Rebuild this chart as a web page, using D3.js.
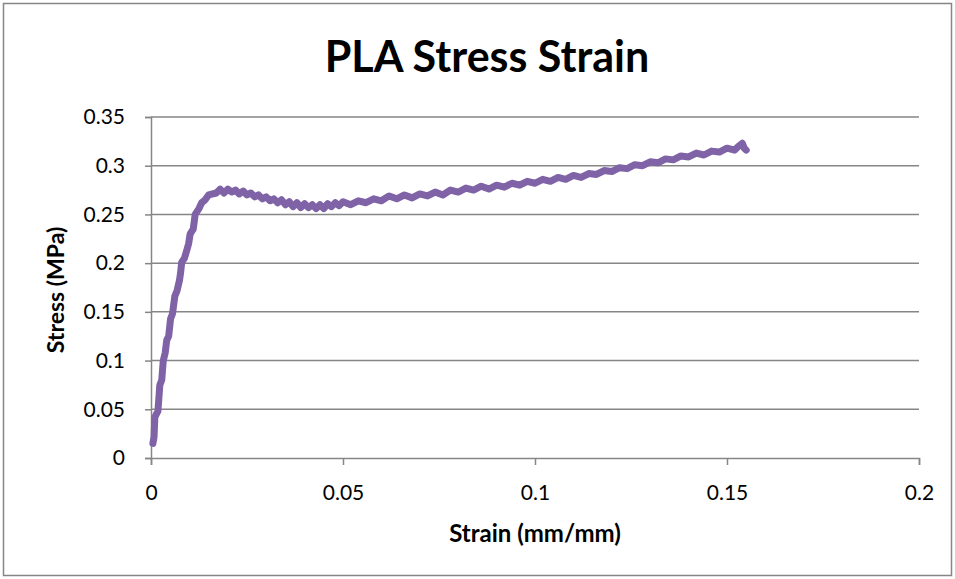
<!DOCTYPE html>
<html>
<head>
<meta charset="utf-8">
<script src="https://cdn.jsdelivr.net/npm/d3@7"></script>
<style>
  body { margin: 0; background: #fff; }
  text { font-family: Lato, "Open Sans", sans-serif; }
</style>
</head>
<body>
<script>
// values
var strain = [0.0005,0.0008,0.001,0.0018,0.0023,0.0028,0.0032,0.0037,0.0041,0.0046,0.0051,0.0056,0.0062,0.0068,0.0074,0.0077,0.008,0.0087,0.0093,0.0098,0.0102,0.011,0.0115,0.0125,0.0132,0.0141,0.015,0.017,0.018,0.019,0.02,
  0.021,0.022,0.023,0.024,0.025,0.026,0.027,0.028,0.029,0.030,0.031,0.032,0.033,0.034,0.035,0.036,0.037,0.038,0.039,0.040,0.041,0.042,0.043,0.044,0.045,0.046,0.047,0.048,0.049,0.050,
  0.052,0.054,0.056,0.058,0.060,0.062,0.064,0.066,0.068,0.070,0.072,0.074,0.076,0.078,0.080,0.082,0.084,0.086,0.088,0.090,0.092,0.094,0.096,0.098,0.100,
  0.102,0.104,0.106,0.108,0.110,0.112,0.114,0.116,0.118,0.120,0.122,0.124,0.126,0.128,0.130,0.132,0.134,0.136,0.138,0.140,0.142,0.144,0.146,0.148,0.150,0.152,0.153,0.154,0.1545,0.155];
var stress = [0.015,0.022,0.042,0.048,0.075,0.08,0.1,0.108,0.121,0.125,0.143,0.148,0.166,0.172,0.182,0.19,0.201,0.205,0.213,0.22,0.23,0.235,0.25,0.256,0.262,0.265,0.27,0.272,0.276,0.272,0.276,
  0.273,0.275,0.271,0.274,0.27,0.272,0.268,0.27,0.266,0.268,0.264,0.266,0.262,0.265,0.26,0.263,0.258,0.262,0.257,0.261,0.257,0.26,0.256,0.26,0.256,0.261,0.258,0.262,0.259,0.263,
  0.26,0.264,0.262,0.266,0.264,0.269,0.266,0.27,0.267,0.271,0.269,0.273,0.27,0.275,0.273,0.277,0.275,0.279,0.276,0.28,0.278,0.282,0.28,0.284,0.282,
  0.286,0.284,0.288,0.286,0.29,0.288,0.292,0.291,0.295,0.294,0.298,0.297,0.301,0.3,0.304,0.303,0.307,0.306,0.31,0.309,0.313,0.311,0.315,0.314,0.318,0.316,0.32,0.323,0.318,0.316];
var xTicks = [0,0.05,0.1,0.15,0.2];
var yTicks = [0,0.05,0.1,0.15,0.2,0.25,0.3,0.35];

var width = 955, height = 579;
var margin = {left:151, right:36, top:117, bottom:121};

var svg = d3.select("body").append("svg")
  .attr("width", width)
  .attr("height", height);

// chart frame
svg.append("rect")
  .attr("x", 3.5).attr("y", 3.5)
  .attr("width", width - 7).attr("height", height - 7)
  .attr("fill", "#fff")
  .attr("stroke", "#868686")
  .attr("stroke-width", 1.5);

var x = d3.scaleLinear().domain([0, 0.2]).range([margin.left, width - margin.right]);
var y = d3.scaleLinear().domain([0, 0.35]).range([height - margin.bottom, margin.top]);

// gridlines
svg.append("g")
  .selectAll("line")
  .data(yTicks.slice(1))
  .enter().append("line")
  .attr("x1", x(0)).attr("x2", x(0.2))
  .attr("y1", function(d){ return y(d); })
  .attr("y2", function(d){ return y(d); })
  .style("stroke", "#868686")
  .style("stroke-width", 1.5);

var xAxis = svg.append("g")
  .attr("transform", "translate(0," + y(0) + ")")
  .call(d3.axisBottom(x).tickValues(xTicks).tickSize(7).tickPadding(20)
    .tickFormat(function(d){ return d3.format("")(d); }));

var yAxis = svg.append("g")
  .attr("transform", "translate(" + x(0) + ",0)")
  .call(d3.axisLeft(y).tickValues(yTicks).tickSize(6).tickPadding(20)
    .tickFormat(function(d){ return d3.format("")(d); }));

[xAxis, yAxis].forEach(function(g){
  g.select(".domain").style("stroke", "#868686").style("stroke-width", 1.5);
  g.selectAll(".tick line").style("stroke", "#868686").style("stroke-width", 1.5);
  g.selectAll(".tick text")
    .style("font-family", "Lato, 'Open Sans', sans-serif")
    .style("font-size", "21px")
    .style("fill", "#000");
});

// data line
var pts = strain.map(function(s, i){ return [s, stress[i]]; });
svg.append("path")
  .datum(pts)
  .attr("d", d3.line().x(function(d){ return x(d[0]); }).y(function(d){ return y(d[1]); }))
  .attr("fill", "none")
  .attr("stroke", "#7f63a6")
  .attr("stroke-width", 7)
  .attr("stroke-linejoin", "round")
  .attr("stroke-linecap", "round");

svg.append("text")
  .attr("x", 487).attr("y", 72)
  .attr("text-anchor", "middle")
  .style("font-size", "43px")
  .style("font-weight", "bold")
  .text("PLA Stress Strain");

svg.append("text")
  .attr("x", 535).attr("y", 542)
  .attr("text-anchor", "middle")
  .style("font-size", "24px")
  .style("font-weight", "bold")
  .text("Strain (mm/mm)");

svg.append("text")
  .attr("transform", "translate(64,290) rotate(-90)")
  .attr("text-anchor", "middle")
  .style("font-size", "23px")
  .style("font-weight", "bold")
  .text("Stress (MPa)");
</script>
</body>
</html>
